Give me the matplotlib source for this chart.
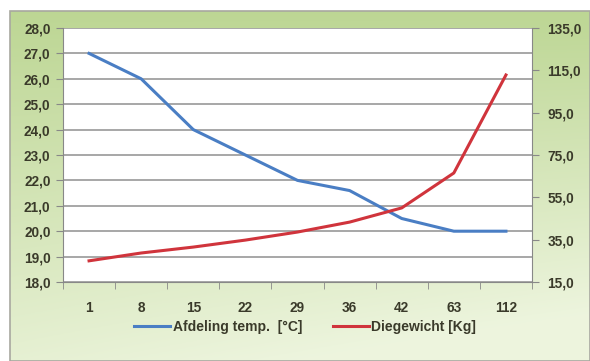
#!/usr/bin/env python3
"""Afdeling temperature vs. diegewicht, dual axis line chart."""

import matplotlib
matplotlib.use("Agg")
import matplotlib.pyplot as plt
import numpy as np
from matplotlib.ticker import FuncFormatter, MultipleLocator
from matplotlib.patches import Rectangle

days = ["1", "8", "15", "22", "29", "36", "42", "63", "112"]
temp = [27.0, 26.0, 24.0, 23.0, 22.0, 21.6, 20.5, 20.0, 20.0]
weight = [25.0, 28.7, 31.5, 34.8, 38.6, 43.3, 50.0, 66.5, 112.8]
weight_ticks = [15, 35, 55, 75, 95, 115, 135]

temp_label = "Afdeling temp.  [°C]"
weight_label = "Diegewicht [Kg]"

plt.rcParams["font.family"] = ["Liberation Sans", "DejaVu Sans"]
plt.rcParams["font.size"] = 9.8
txt = "#3a3a2a"

fig = plt.figure(figsize=(5.9, 3.61), dpi=100)
fig.patch.set_facecolor("white")

# green gradient background inside a grey frame
bg = fig.add_axes([10 / 590, 0, 580 / 590, 350 / 361], zorder=-5)
yy, xx = np.mgrid[0:1:200j, 0:1:300j]
t = np.clip(0.85 * yy + 0.3 * xx * yy, 0, 1)
c0 = np.array([0.74, 0.84, 0.58])
c1 = np.array([0.93, 0.96, 0.87])
img = c0 * (1 - t[..., None]) + c1 * t[..., None]
bg.imshow(img, aspect="auto", origin="upper", extent=[0, 1, 0, 1])
bg.set_xlim(0, 1)
bg.set_ylim(0, 1)
bg.axis("off")
fig.add_artist(Rectangle((10 / 590, 0), 580 / 590, 350 / 361, transform=fig.transFigure,
                         fill=False, edgecolor="#a8a8a0", linewidth=1.2, zorder=-4))

ax = fig.add_axes([63 / 590, 1 - 282 / 361, 469 / 590, 254 / 361])
ax.set_facecolor("white")
x = np.arange(len(days))

ax.plot(x, temp, color="#4a7ec4", linewidth=2.2, label=temp_label, zorder=3)
ax.set_ylim(18, 28)
ax.yaxis.set_major_locator(MultipleLocator(1))
ax.yaxis.set_major_formatter(FuncFormatter(lambda v, p: f"{v:.1f}".replace(".", ",")))
ax.set_xlim(-0.5, len(days) - 0.5)
ax.set_xticks(x)
ax.set_xticklabels(days)
ax.set_xticks(np.arange(-0.5, len(days)), minor=True)
ax.tick_params(axis="x", which="major", length=0, pad=14, colors=txt)
ax.tick_params(axis="x", which="minor", length=5, color="#888888", direction="out")
ax.tick_params(axis="y", length=5, color="#888888", colors=txt, pad=4)
ax.grid(axis="y", color="#a0a0a0", linewidth=1.3)
ax.set_axisbelow(True)
for s in ["top", "right"]:
    ax.spines[s].set_visible(False)
ax.spines["left"].set_color("#888888")
ax.spines["bottom"].set_color("#888888")

ax2 = ax.twinx()
ax2.plot(x, weight, color="#d0343c", linewidth=2.2, label=weight_label, zorder=3)
ax2.set_ylim(15, 135)
ax2.set_yticks(weight_ticks)
ax2.yaxis.set_major_formatter(FuncFormatter(lambda v, p: f"{v:.1f}".replace(".", ",")))
ax2.tick_params(axis="y", length=5, color="#888888", colors=txt, pad=6)
for s in ["top", "left", "bottom"]:
    ax2.spines[s].set_visible(False)
ax2.spines["right"].set_color("#888888")

for lbl in ax.get_yticklabels() + ax2.get_yticklabels() + ax.get_xticklabels():
    lbl.set_fontweight("bold")
    lbl.set_color(txt)

h1, l1 = ax.get_legend_handles_labels()
h2, l2 = ax2.get_legend_handles_labels()
leg = fig.legend(h1 + h2, l1 + l2, loc="center", bbox_to_anchor=(305 / 590, 1 - 327 / 361),
                 ncol=2, frameon=False, handlelength=2.6, handletextpad=0.2,
                 columnspacing=2.2, prop={"weight": "bold", "size": 10})
for t_ in leg.get_texts():
    t_.set_color(txt)

fig.savefig("out.png", dpi=100)
